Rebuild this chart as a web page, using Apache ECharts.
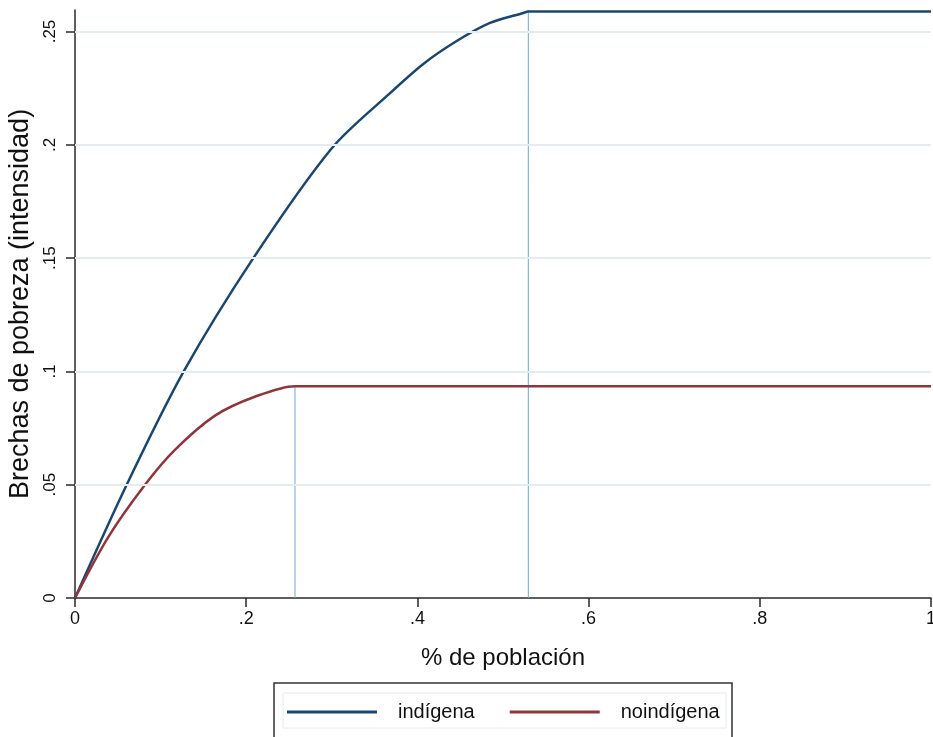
<!DOCTYPE html>
<html>
<head>
<meta charset="utf-8">
<script src="https://cdn.jsdelivr.net/npm/echarts@6/dist/echarts.min.js"></script>
<style>
  html, body { margin: 0; padding: 0; background: #fff; }
  #main { width: 933px; height: 737px; }
</style>
</head>
<body>
<div id="main"></div>
<script>
// curve points: [% de población, brecha]
var indigena = [
  [0, 0], [0.0604, 0.05], [0.127, 0.1], [0.2083, 0.15], [0.30, 0.1985],
  [0.368, 0.2228], [0.4069, 0.2357], [0.4459, 0.2458], [0.4848, 0.2538],
  [0.5237, 0.2582], [0.5296, 0.2588], [1, 0.2588]
];
var noindigena = [
  [0, 0], [0.039, 0.027], [0.0818, 0.05], [0.117, 0.0655], [0.1636, 0.0805],
  [0.21, 0.0888], [0.257, 0.0935], [1, 0.0935]
];
// vertical markers where each curve flattens
var corteIndigena = [[0.5296, 0], [0.5296, 0.2595]];
var corteNoindigena = [[0.257, 0], [0.257, 0.0935]];

var xTicks = [0, 0.2, 0.4, 0.6, 0.8, 1];
var yTicks = [0, 0.05, 0.1, 0.15, 0.2, 0.25];

function fmt(v) {
  if (v === 0) return '0';
  if (v === 1) return '1';
  return String(+v.toFixed(2)).replace(/^0/, '');
}

var chart = echarts.init(document.getElementById('main'));
var font = '"Liberation Sans", Arial, sans-serif';

chart.setOption({
  animation: false,
  grid: { left: 75, right: 2, top: 10, bottom: 139, containLabel: false, outerBoundsMode: 'none' },
  xAxis: {
    type: 'value', min: 0, max: 1, interval: 0.2,
    name: '% de población', nameLocation: 'middle', nameGap: 48,
    nameTextStyle: { fontSize: 24, color: '#111', fontFamily: font },
    axisLine: { lineStyle: { color: '#2a2a2a', width: 1.5 } },
    axisTick: { show: true, length: 9, customValues: xTicks, lineStyle: { color: '#2a2a2a', width: 1.5 } },
    axisLabel: { fontSize: 18, color: '#111', fontFamily: font, margin: 12,
      customValues: xTicks, formatter: fmt },
    splitLine: { show: false }
  },
  yAxis: {
    type: 'value', min: 0, max: 0.2595, interval: 0.05,
    name: 'Brechas de pobreza (intensidad)', nameLocation: 'middle', nameGap: 35,
    nameTextStyle: { fontSize: 27, color: '#111', fontFamily: font },
    axisLine: { show: true, lineStyle: { color: '#2a2a2a', width: 1.5 } },
    axisTick: { show: true, length: 9, customValues: yTicks, lineStyle: { color: '#2a2a2a', width: 1.5 } },
    axisLabel: { fontSize: 17, color: '#111', fontFamily: font, rotate: 90, margin: 16,
      customValues: yTicks, formatter: fmt },
    splitLine: { show: false }
  },
  legend: {
    left: 287, top: 702, padding: 0,
    data: ['indígena', 'noindígena'],
    icon: 'rect', itemWidth: 90, itemHeight: 3, itemGap: 35,
    textStyle: { fontSize: 20, color: '#111', fontFamily: font, padding: [0, 0, 0, 16] }
  },
  graphic: [
    { type: 'rect', shape: { x: 274, y: 683, width: 458, height: 60 },
      style: { fill: 'none', stroke: '#333', lineWidth: 1.5 }, z: 10 },
    { type: 'rect', shape: { x: 283, y: 693, width: 443, height: 35 },
      style: { fill: 'none', stroke: '#e3ecef', lineWidth: 1 }, z: 10 }
  ],
  series: [
    {
      name: 'grid', type: 'line', data: [], silent: true,
      markLine: {
        symbol: 'none', silent: true, label: { show: false },
        lineStyle: { color: '#e3ecef', width: 2, type: 'solid' },
        data: yTicks.slice(1).map(function (v) { return { yAxis: v }; })
      }
    },
    {
      name: 'corte1', type: 'line', data: corteIndigena, symbol: 'none',
      lineStyle: { color: '#6ea6e0', width: 1 }, z: 3
    },
    {
      name: 'corte2', type: 'line', data: corteNoindigena, symbol: 'none',
      lineStyle: { color: '#6ea6e0', width: 1 }, z: 3
    },
    {
      name: 'indígena', type: 'line', data: indigena, smooth: 0.3,
      symbol: 'none', color: '#1a476f', lineStyle: { color: '#1a476f', width: 2.5 }, z: 4
    },
    {
      name: 'noindígena', type: 'line', data: noindigena, smooth: 0.3,
      symbol: 'none', color: '#90353b', lineStyle: { color: '#90353b', width: 2.5 }, z: 4
    }
  ]
});
</script>
</body>
</html>
